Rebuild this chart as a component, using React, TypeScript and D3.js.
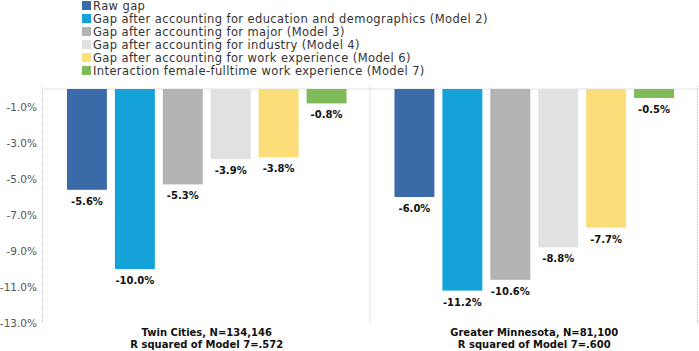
import React, { useEffect, useRef } from 'react'
import * as d3 from 'd3'

const regions = ['Twin Cities, N=134,146', 'Greater Minnesota, N=81,100']
const regionSubtitles = ['R squared of Model 7=.572', 'R squared of Model 7=.600']
const models = [
  'Raw gap',
  'Gap after accounting for education and demographics (Model 2)',
  'Gap after accounting for major (Model 3)',
  'Gap after accounting for industry (Model 4)',
  'Gap after accounting for work experience (Model 6)',
  'Interaction female-fulltime work experience (Model 7)',
]
const modelColors = ['#3a6aa8', '#14a2d8', '#b3b3b3', '#e0e1e1', '#fbdd7a', '#80bb5a']
const twinCities = [-5.6, -10.0, -5.3, -3.9, -3.8, -0.8]
const greaterMn = [-6.0, -11.2, -10.6, -8.8, -7.7, -0.5]
const yTicks = [-1, -3, -5, -7, -9, -11, -13]

const FONT = '"DejaVu Sans", Verdana, sans-serif'
const locale = d3.formatLocale({ decimal: '.', thousands: ',', grouping: [3], currency: ['', ''], minus: '-' })
const pct = (d: number) => locale.format('.1f')(d) + '%'

export default function App() {
  const svgRef = useRef<SVGSVGElement>(null)

  useEffect(() => {
    document.body.style.margin = '0'
    const width = 699
    const height = 351
    const margin = { top: 89, right: 1, bottom: 28, left: 43 }

    const svg = d3.select(svgRef.current)
    svg.selectAll('*').remove()
    svg.attr('width', width).attr('height', height).style('font-family', FONT)

    const series = [twinCities, greaterMn]

    const x0 = d3.scaleBand().domain(regions).range([margin.left, width - margin.right])
    const x1 = d3.scaleBand().domain(models).range([0, x0.bandwidth()]).paddingInner(1 / 6).paddingOuter(0.5)
    const y = d3.scaleLinear().domain([0, -13]).range([margin.top, height - margin.bottom])

    // axis labels
    svg.append('g')
      .selectAll('text')
      .data(yTicks)
      .join('text')
      .attr('x', 37)
      .attr('y', (d) => y(d) + 4)
      .attr('text-anchor', 'end')
      .attr('fill', '#555')
      .attr('font-size', 10.5)
      .text(pct)

    // top line
    svg.append('line')
      .attr('x1', margin.left).attr('x2', width - margin.right)
      .attr('y1', y(0)).attr('y2', y(0))
      .attr('stroke', '#e2e2e2')

    // dotted dividers
    const dividers = [margin.left, ...regions.map((r) => (x0(r) as number) + x0.bandwidth())]
    svg.append('g')
      .selectAll('line')
      .data(dividers)
      .join('line')
      .attr('x1', (d) => d - 0.5).attr('x2', (d) => d - 0.5)
      .attr('y1', y(0) - 3).attr('y2', y(-13))
      .attr('stroke', '#c8c8c8')
      .attr('stroke-dasharray', '1,1')

    regions.forEach((region, gi) => {
      const g = svg.append('g').attr('transform', `translate(${x0(region)},0)`)
      const vals = series[gi]
      g.selectAll('rect')
        .data(vals)
        .join('rect')
        .attr('x', (_, i) => x1(models[i]) as number)
        .attr('y', y(0))
        .attr('width', x1.bandwidth())
        .attr('height', (d) => y(d) - y(0))
        .attr('fill', (_, i) => modelColors[i])
      g.selectAll('text.val')
        .data(vals)
        .join('text')
        .attr('class', 'val')
        .attr('x', (_, i) => (x1(models[i]) as number) + x1.bandwidth() / 2)
        .attr('y', (d) => y(d) + 15)
        .attr('text-anchor', 'middle')
        .attr('font-size', 10)
        .attr('font-weight', 'bold')
        .attr('fill', '#111')
        .text(pct)

      const cx = x0.bandwidth() / 2
      g.append('text')
        .attr('x', cx).attr('y', 336)
        .attr('text-anchor', 'middle').attr('font-size', 10).attr('font-weight', 'bold').attr('fill', '#111')
        .text(region)
      g.append('text')
        .attr('x', cx).attr('y', 348)
        .attr('text-anchor', 'middle').attr('font-size', 10).attr('font-weight', 'bold').attr('fill', '#111')
        .text(regionSubtitles[gi])
    })

    // legend
    const legend = svg.append('g').attr('transform', 'translate(82,0)')
    models.forEach((m, i) => {
      legend.append('rect')
        .attr('x', 0).attr('y', 1 + i * 13)
        .attr('width', 9).attr('height', 9)
        .attr('fill', modelColors[i])
      legend.append('text')
        .attr('x', 11).attr('y', 10 + i * 13)
        .attr('font-size', 11.5)
        .attr('letter-spacing', 0.4)
        .attr('fill', '#333')
        .text(m)
    })
  }, [])

  return <svg ref={svgRef} style={{ display: 'block' }} />
}
